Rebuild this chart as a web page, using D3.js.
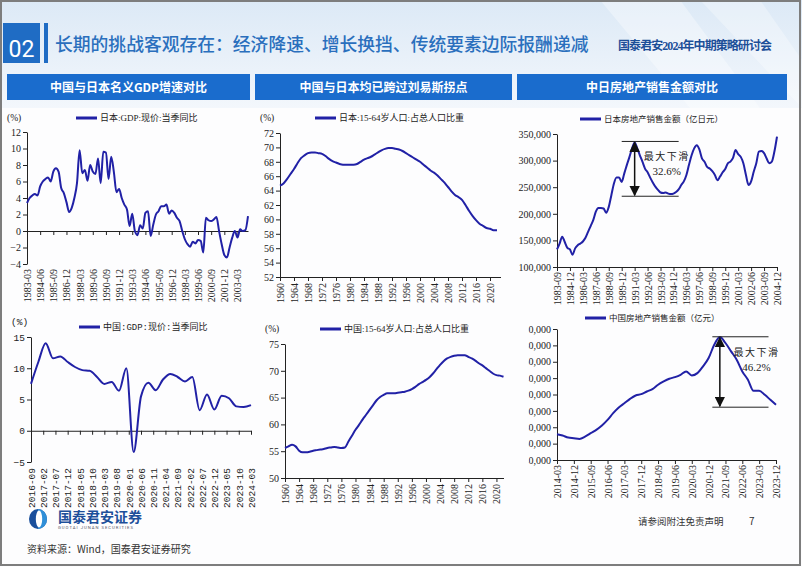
<!DOCTYPE html>
<html>
<head>
<meta charset="utf-8">
<script src="https://cdn.jsdelivr.net/npm/d3@7"></script>
<style>
body { margin: 0; background: #fff; }
</style>
</head>
<body>
<div id="container"></div>
<script>
//DATA
const jpGdpLabels = ['1983-03','1984-06','1985-09','1986-12','1988-03','1989-06','1990-09','1991-12','1993-03',
    '1994-06','1995-09','1996-12','1998-03','1999-06','2000-09','2001-12','2003-03']
//quarterly, 1983-03 .. 2004-03
const jpGdp = [3.4, 4.0, 4.3, 4.5, 4.3, 5.4, 6.0, 6.3, 6.5, 6.0,
    7.2, 7.6, 7.2, 5.2, 4.6, 3.5, 2.3, 2.8, 4.0, 5.8,
    9.8, 7.0, 7.4, 6.1, 8.0, 7.2, 6.9, 8.8, 5.8, 9.6,
    9.5, 6.3, 9.0, 7.2, 4.7, 5.1, 4.0, 3.2, 2.6, 0.6,
    2.1, 0.0, -0.5, 0.7, 0.3, 2.2, 2.4, -0.6, 0.8, 2.0,
    2.4, 3.0, 3.0, 3.2, 2.1, 2.5, 2.2, 1.6, 1.2, 0.0,
    -1.0, -1.6, -1.9, -1.3, -1.5, -1.1, -1.2, -2.6, 1.6, 1.3,
    1.2, 1.4, 1.7, 0.0, -1.6, -2.9, -3.2, -2.0, -0.8, 0.0,
    -0.8, 0.2, 0.0, 0.1, 1.8]

const popYearLabels = [1960, 1964, 1968, 1972, 1976, 1980, 1984, 1988, 1992, 1996, 2000, 2004, 2008, 2012, 2016, 2020]
//annual, 1960 .. 2022
const jpPop = [64.7, 65.0, 65.6, 66.3, 67.0, 67.8, 68.5, 68.9, 69.2, 69.3,
    69.3, 69.2, 69.1, 68.8, 68.4, 68.1, 67.9, 67.7, 67.6, 67.6,
    67.6, 67.6, 67.7, 68.0, 68.3, 68.5, 68.7, 69.0, 69.3, 69.6,
    69.8, 69.9, 69.9, 69.8, 69.7, 69.5, 69.2, 68.9, 68.6, 68.3,
    68.0, 67.6, 67.2, 66.8, 66.5, 66.1, 65.6, 65.1, 64.5, 63.9,
    63.4, 63.1, 62.7, 62.0, 61.2, 60.5, 59.9, 59.4, 59.1, 58.8,
    58.7, 58.5, 58.5]
const cnPop = [55.6, 55.9, 56.2, 55.9, 55.1, 54.8, 54.8, 54.9, 55.1, 55.2,
    55.3, 55.4, 55.6, 55.7, 55.8, 55.7, 55.6, 55.7, 56.8, 57.9,
    59.0, 59.9, 60.9, 61.8, 62.7, 63.6, 64.5, 65.1, 65.5, 65.8,
    65.8, 65.8, 65.9, 66.0, 66.1, 66.3, 66.6, 67.0, 67.5, 67.9,
    68.3, 68.8, 69.5, 70.3, 71.1, 71.8, 72.3, 72.6, 72.8, 72.9,
    72.9, 72.9, 72.6, 72.3, 71.9, 71.4, 71.0, 70.5, 70.0, 69.5,
    69.2, 69.1, 68.9]

const jpHouseLabels = ['1983-09','1984-12','1986-03','1987-06','1988-09','1989-12','1991-03','1992-06','1993-09',
    '1994-12','1996-03','1997-06','1998-09','1999-12','2001-03','2002-06','2003-09','2004-12']
//quarterly, 1983-09 .. 2004-12, 亿日元
const jpHouse = [133000, 144000, 157000, 147000, 136000, 133000, 123000, 135000, 141000, 144000,
    148000, 155000, 166000, 177000, 188000, 204000, 211000, 211000, 210000, 202000,
    213000, 235000, 257000, 268000, 268000, 260000, 276000, 292000, 307000, 323000,
    334000, 323000, 310000, 298000, 285000, 278000, 268000, 259000, 251000, 245000,
    240000, 239000, 240000, 238000, 237000, 238000, 241000, 246000, 254000, 261000,
    273000, 292000, 310000, 323000, 329000, 321000, 304000, 298000, 288000, 285000,
    280000, 273000, 263000, 270000, 278000, 284000, 295000, 298000, 305000, 320000,
    312000, 307000, 295000, 273000, 254000, 261000, 279000, 295000, 317000, 318000,
    314000, 304000, 295000, 298000, 317000, 345000]
const jpDropText = ['最大下滑', '32.6%']
const jpDropIdx = [25, 30, 47] //line start, arrow, line end (quarters)
const jpDropVals = [336000, 233000]

const cnGdpLabels = ['2016-09','2017-02','2017-07','2017-12','2018-05','2018-10','2019-03','2019-08','2020-01',
    '2020-06','2020-11','2021-04','2021-09','2022-02','2022-07','2022-12','2023-05','2023-10','2024-03']
//quarterly, 2016-09 .. 2024-03
const cnGdp = [7.5, 11.0, 14.0, 11.6, 11.9, 11.0, 10.2, 9.7, 9.6, 8.6,
    7.5, 7.8, 6.4, 10.0, -3.4, 5.5, 7.7, 6.5, 8.2, 9.1,
    8.6, 7.9, 8.6, 3.3, 5.8, 3.4, 5.6, 5.2, 3.9, 3.8, 4.1]

const cnHouseLabels = ['2014-03','2014-12','2015-09','2016-06','2017-03','2017-12','2018-09','2019-06','2020-03',
    '2020-12','2021-09','2022-06','2023-03','2023-12']
//quarterly, 2014-03 .. 2023-12, 亿元
const cnHouse = [71500, 69900, 67400, 66600, 65800, 68600, 72700, 76800, 82100, 89000,
    97200, 104100, 109400, 114700, 118800, 120400, 123700, 126600, 131900, 135900,
    139200, 141200, 144100, 148200, 143300, 146100, 154300, 164500, 180800, 190200,
    182900, 172700, 162500, 148200, 138000, 124500, 124500, 119600, 113500, 107400]
const cnDropText = ['最大下滑', '46.2%']
const cnDropIdx = [83, 87, 113] //months
const cnDropVals = [190500, 104500]

//BOX
const w = 802
const h = 567
const lineColor = '#2121a6'
const serif = "'Liberation Serif','Noto Sans CJK SC',serif"
const sans = "'Noto Sans CJK SC','Noto Sans',sans-serif"

const svg = d3.select('#container')
    .append('svg')
    .attr('width', w)
    .attr('height', h)

const defs = svg.append('defs')
const bg = defs.append('linearGradient').attr('id', 'bg').attr('x1', 0).attr('y1', 0).attr('x2', 0).attr('y2', 1)
bg.append('stop').attr('offset', '0%').attr('stop-color', '#dce9f6')
bg.append('stop').attr('offset', '100%').attr('stop-color', '#f3f7fc')
defs.append('marker')
    .attr('id', 'arrow')
    .attr('viewBox', '0 0 10 10')
    .attr('refX', 9).attr('refY', 5)
    .attr('markerWidth', 7).attr('markerHeight', 7)
    .attr('orient', 'auto-start-reverse')
    .append('path')
    .attr('d', 'M0,0L10,5L0,10Z')
    .attr('fill', '#111')
//left edge of the cropped china real estate picture
defs.append('clipPath').attr('id', 'cut6')
    .append('rect').attr('x', 528.7).attr('y', 300).attr('width', 280).attr('height', 200)

//BACKGROUND
svg.append('rect').attr('width', w).attr('height', h).attr('fill', '#fdfdfe')
svg.append('rect').attr('width', w).attr('height', 108).attr('fill', 'url(#bg)')
svg.append('path').attr('d', 'M600,0L680,0L760,108L690,108Z').attr('fill', '#fff').attr('opacity', 0.35)
svg.append('path').attr('d', 'M700,0L760,0L802,60L802,108Z').attr('fill', '#fff').attr('opacity', 0.3)

//HEADER
svg.append('rect').attr('x', 3).attr('y', 23).attr('width', 37).attr('height', 40).attr('fill', '#1f6cc4')
svg.append('text').attr('x', 21.5).attr('y', 57).attr('text-anchor', 'middle')
    .attr('font-family', 'Roboto').attr('font-size', 23).attr('fill', '#fff').text('02')
svg.append('rect').attr('x', 44).attr('y', 23).attr('width', 4).attr('height', 40).attr('fill', '#1f6cc4')
svg.append('text').attr('x', 55).attr('y', 51).attr('font-family', sans).attr('font-size', 17.8)
    .attr('font-weight', 500).attr('fill', '#2a6fbd')
    .text('长期的挑战客观存在：经济降速、增长换挡、传统要素边际报酬递减')
svg.append('text').attr('x', 618).attr('y', 50).attr('font-family', serif).attr('font-size', 12)
    .attr('font-weight', 'bold').attr('fill', '#1d4f98').attr('textLength', 154)
    .text('国泰君安2024年中期策略研讨会')

const sections = [[7, 250, '中国与日本名义GDP增速对比'], [255, 512, '中国与日本均已跨过刘易斯拐点'], [517, 787, '中日房地产销售金额对比']]
sections.forEach(s => {
    svg.append('rect').attr('x', s[0]).attr('y', 74).attr('width', s[1] - s[0]).attr('height', 26).attr('fill', '#1a6ccd')
    svg.append('text').attr('x', (s[0] + s[1]) / 2).attr('y', 91.5).attr('text-anchor', 'middle')
        .attr('font-family', sans).attr('font-size', 12).attr('font-weight', 'bold').attr('fill', '#fff').text(s[2])
})

//PANEL
function panel(o) {
    const g = svg.append('g')
    const x = d3.scaleLinear().domain(o.xDomain).range(o.xRange)
    const y = d3.scaleLinear().domain(o.yDomain).range(o.yRange)
    const font = o.font || serif
    const fs = o.fontSize || 10

    const yWrap = g.append('g')
    if (o.clip) yWrap.attr('clip-path', 'url(#' + o.clip + ')')
    const ya = yWrap.append('g')
        .attr('transform', 'translate(' + o.xRange[0] + ',0)')
        .call(d3.axisLeft(y).tickValues(o.yTicks).tickFormat(o.yFmt || d3.format('d')).tickSize(4).tickSizeOuter(0))
    ya.attr('font-family', font).attr('font-size', fs).style('color', '#222')
    ya.selectAll('text').attr('x', -6)

    const base = o.base !== undefined ? y(o.base) : o.yRange[0]
    g.append('g')
        .attr('transform', 'translate(0,' + base + ')')
        .call(d3.axisBottom(x).tickValues(o.xTicks).tickFormat('').tickSize(4).tickSizeOuter(0))
        .style('color', '#222')

    g.append('g')
        .attr('transform', 'translate(0,' + o.yRange[0] + ')')
        .call(d3.axisBottom(x).tickValues(o.xTicks).tickFormat((d, i) => o.xLabels[i]).tickSize(0))
        .attr('font-family', font).attr('font-size', fs).style('color', '#222')
        .call(a => a.select('.domain').remove())
        .selectAll('text')
        .attr('transform', 'rotate(-90)')
        .attr('x', o.labelGap || -5)
        .attr('y', 0)
        .attr('dy', '0.35em')
        .style('text-anchor', 'end')

    g.append('path')
        .datum(o.values)
        .attr('fill', 'none')
        .attr('stroke', lineColor)
        .attr('stroke-width', 2)
        .attr('stroke-linejoin', 'round')
        .attr('d', d3.line().x((d, i) => x(o.xOf(i))).y(d => y(d)).curve(d3.curveMonotoneX))

    //LEGEND
    g.append('line')
        .attr('x1', o.legend[0]).attr('x2', o.legend[0] + 21)
        .attr('y1', o.legend[1]).attr('y2', o.legend[1])
        .attr('stroke', lineColor).attr('stroke-width', 3)
    g.append('text')
        .attr('x', o.legend[0] + 24).attr('y', o.legend[1] + 3)
        .attr('font-family', font).attr('font-size', o.legendSize || 9).attr('fill', '#222')
        .text(o.legendText)
    if (o.pct) {
        g.append('text').attr('x', o.pct[0]).attr('y', o.pct[1] + 3)
            .attr('font-family', font).attr('font-size', 9.5).attr('fill', '#222').text('(%)')
    }
    return { g, x, y }
}

function dropNote(p, idx, vals, txt) {
    const x = p.x, y = p.y
    vals.forEach(v => {
        p.g.append('line')
            .attr('x1', x(idx[0])).attr('x2', x(idx[2]))
            .attr('y1', y(v)).attr('y2', y(v))
            .attr('stroke', '#222').attr('stroke-width', 1)
    })
    p.g.append('line')
        .attr('x1', x(idx[1])).attr('x2', x(idx[1]))
        .attr('y1', y(vals[0]) + 1).attr('y2', y(vals[1]) - 1)
        .attr('stroke', '#111').attr('stroke-width', 1.5)
        .attr('marker-start', 'url(#arrow)').attr('marker-end', 'url(#arrow)')
    const tx = x(idx[2]) - 12
    p.g.append('text').attr('x', tx).attr('y', y(vals[0]) + 19).attr('text-anchor', 'middle')
        .attr('font-family', serif).attr('font-size', 10).attr('letter-spacing', 1.5).attr('fill', '#222').text(txt[0])
    p.g.append('text').attr('x', tx).attr('y', y(vals[0]) + 34).attr('text-anchor', 'middle')
        .attr('font-family', serif).attr('font-size', 11).attr('fill', '#222').text(txt[1])
}

//CHART 1: JAPAN GDP
panel({
    xDomain: [0, 84], xRange: [27, 248],
    yDomain: [-4, 12], yRange: [264, 132], yTicks: d3.range(-4, 13, 2),
    base: 0,
    xTicks: jpGdpLabels.map((d, i) => i * 5), xLabels: jpGdpLabels,
    values: jpGdp, xOf: i => i,
    legend: [76, 118], legendText: '日本:GDP:现价:当季同比', pct: [7, 118]
})

//CHART 2: JAPAN POPULATION
panel({
    xDomain: [1960, 2023], xRange: [280, 500.5],
    yDomain: [52, 72], yRange: [277, 133], yTicks: d3.range(52, 73, 2),
    xTicks: popYearLabels, xLabels: popYearLabels, labelGap: -6,
    values: jpPop, xOf: i => 1960 + i,
    legend: [315, 118], legendText: '日本:15-64岁人口:占总人口比重', pct: [260, 118]
})

//CHART 3: JAPAN REAL ESTATE
const p3 = panel({
    xDomain: [0, 85], xRange: [557, 777],
    yDomain: [100000, 350000], yRange: [267, 134], yTicks: d3.range(100000, 350001, 50000),
    yFmt: d3.format(','),
    xTicks: jpHouseLabels.map((d, i) => i * 5), xLabels: jpHouseLabels,
    values: jpHouse, xOf: i => i,
    legend: [580, 119], legendText: '日本房地产销售金额（亿日元）', legendSize: 8.5
})
dropNote(p3, jpDropIdx, jpDropVals, jpDropText)

//CHART 4: CHINA GDP
panel({
    xDomain: [0, 90], xRange: [31, 251],
    yDomain: [-5, 15], yRange: [462, 337], yTicks: d3.range(-5, 16, 5),
    base: 0, font: "'Liberation Mono','Noto Sans CJK SC',monospace", fontSize: 9.5,
    xTicks: cnGdpLabels.map((d, i) => i * 5), xLabels: cnGdpLabels, labelGap: -6,
    values: cnGdp, xOf: i => i * 3,
    legend: [79, 327], legendText: '中国:GDP:现价:当季同比', pct: [11, 322]
})

//CHART 5: CHINA POPULATION
panel({
    xDomain: [1960, 2022], xRange: [285, 503.5],
    yDomain: [50, 75], yRange: [478, 344], yTicks: d3.range(50, 76, 5),
    xTicks: popYearLabels, xLabels: popYearLabels, labelGap: -6,
    values: cnPop, xOf: i => 1960 + i,
    legend: [320, 329], legendText: '中国:15-64岁人口:占总人口比重', pct: [265, 329]
})

//CHART 6: CHINA REAL ESTATE
const p6 = panel({
    xDomain: [0, 117], xRange: [557, 776],
    yDomain: [40000, 200000], yRange: [460, 329], yTicks: d3.range(40000, 200001, 20000),
    yFmt: d3.format(','), clip: 'cut6',
    xTicks: cnHouseLabels.map((d, i) => i * 9), xLabels: cnHouseLabels,
    values: cnHouse, xOf: i => i * 3,
    legend: [585, 318], legendText: '中国房地产销售金额（亿元）', legendSize: 8.5
})
dropNote(p6, cnDropIdx, cnDropVals, cnDropText)

//FOOTER
svg.append('ellipse').attr('cx', 38).attr('cy', 519).attr('rx', 9).attr('ry', 10).attr('fill', '#1a4f9c')
svg.append('path').attr('d', 'M38,509A9,10 0 0 1 38,529Z').attr('fill', '#2f8fd8')
svg.append('ellipse').attr('cx', 39).attr('cy', 519).attr('rx', 3.2).attr('ry', 8.5).attr('fill', '#fff')
svg.append('text').attr('x', 58).attr('y', 522).attr('font-family', sans).attr('font-size', 14)
    .attr('font-weight', 'bold').attr('fill', '#1d4f9a').text('国泰君安证券')
svg.append('text').attr('x', 58).attr('y', 528.5).attr('font-family', 'Roboto').attr('font-size', 4.2)
    .attr('fill', '#556').attr('textLength', 75).text('GUOTAI JUNAN SECURITIES')
svg.append('text').attr('x', 27).attr('y', 553).attr('font-family', sans).attr('font-size', 10)
    .attr('fill', '#333').text('资料来源：Wind，国泰君安证券研究')
svg.append('text').attr('x', 638).attr('y', 525).attr('font-family', sans).attr('font-size', 9.5)
    .attr('fill', '#333').text('请参阅附注免责声明')
svg.append('text').attr('x', 749).attr('y', 525).attr('font-family', sans).attr('font-size', 10)
    .attr('fill', '#333').text('7')

//FRAME
svg.append('rect').attr('x', 1).attr('y', 1).attr('width', w - 3).attr('height', h - 3)
    .attr('fill', 'none').attr('stroke', '#7d7d7d').attr('stroke-width', 2)
</script>
</body>
</html>
